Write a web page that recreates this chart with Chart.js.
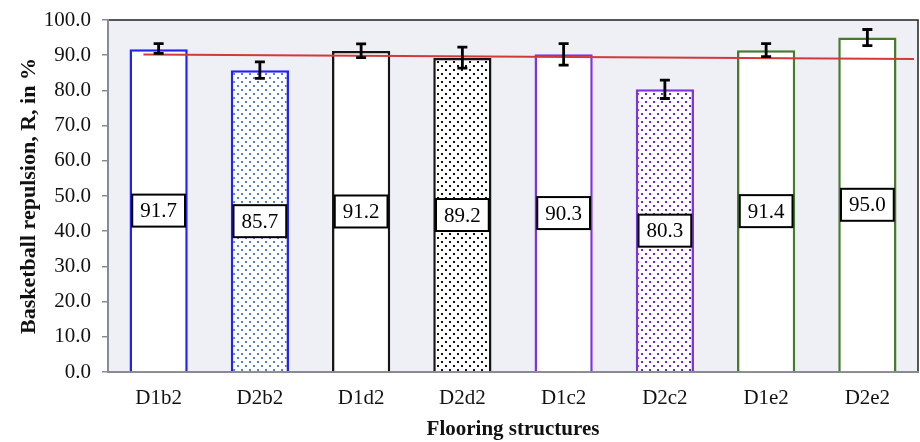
<!DOCTYPE html>
<html><head><meta charset="utf-8">
<script src="https://cdn.jsdelivr.net/npm/chart.js@4.4.1/dist/chart.umd.min.js"></script>
<style>html,body{margin:0;padding:0;background:#fff;}#wrap{width:920px;height:442px;}</style>
</head><body><div id="wrap"><canvas id="c" width="920" height="442"></canvas></div>
<script>
const categories = ['D1b2','D2b2','D1d2','D2d2','D1c2','D2c2','D1e2','D2e2'];
const values = [91.7, 85.7, 91.2, 89.2, 90.3, 80.3, 91.4, 95.0];
const errLow = [90.5, 83.4, 89.3, 86.3, 87.2, 77.7, 89.6, 92.7];
const errHigh = [93.3, 88.1, 93.2, 92.3, 93.3, 82.9, 93.3, 97.3];
const trendX = [-0.15, 7.46];
const trendY = [90.2, 88.9];
const yTicks = [0,10,20,30,40,50,60,70,80,90,100];

const borderColors = ['#2222f2','#2222f2','#151515','#151515','#8033e3','#8033e3','#467a2c','#467a2c'];
const dotColors = [null,'#5a7ed0',null,'#111111',null,'#6a2ac6',null,null];

function makePattern(color){
  const c = document.createElement('canvas'); c.width = 8; c.height = 8;
  const g = c.getContext('2d');
  g.fillStyle = '#ffffff'; g.fillRect(0,0,8,8);
  g.fillStyle = color;
  g.fillRect(1,1,2,2); g.fillRect(5,5,2,2);
  return g.createPattern(c,'repeat');
}
const fills = dotColors.map(c => c ? makePattern(c) : '#ffffff');

const FONT = "'Liberation Serif','Times New Roman',serif";

const bgPlugin = {
  id:'bg',
  beforeDraw(chart){
    const {ctx, chartArea:a} = chart;
    ctx.save();
    ctx.fillStyle = '#efeff6';
    ctx.fillRect(a.left, a.top, a.right-a.left, a.bottom-a.top);
    ctx.strokeStyle = '#222'; ctx.lineWidth = 1.5;
    ctx.beginPath();
    ctx.moveTo(a.left, a.top); ctx.lineTo(a.right, a.top); ctx.lineTo(a.right, a.bottom);
    ctx.stroke();
    ctx.restore();
  }
};

const overlayPlugin = {
  id:'overlay',
  afterDatasetsDraw(chart){
    const {ctx} = chart;
    const meta = chart.getDatasetMeta(0);
    const ys = chart.scales.y;
    ctx.save();
    ctx.strokeStyle = '#000'; ctx.lineWidth = 2.8;
    meta.data.forEach((bar,i)=>{
      const x = bar.x, y1 = ys.getPixelForValue(errHigh[i]), y2 = ys.getPixelForValue(errLow[i]);
      ctx.beginPath();
      ctx.moveTo(x, y1); ctx.lineTo(x, y2);
      ctx.moveTo(x-5, y1); ctx.lineTo(x+5, y1);
      ctx.moveTo(x-5, y2); ctx.lineTo(x+5, y2);
      ctx.stroke();
    });
    ctx.font = '21px ' + FONT;
    ctx.textAlign = 'center'; ctx.textBaseline = 'middle';
    meta.data.forEach((bar,i)=>{
      const txt = values[i].toFixed(1);
      const x = bar.x, y = ys.getPixelForValue(values[i]/2);
      const w = ctx.measureText(txt).width + 16, h = 32;
      ctx.fillStyle = '#fff';
      ctx.fillRect(x-w/2, y-h/2, w, h);
      ctx.strokeStyle = '#000'; ctx.lineWidth = 2;
      ctx.strokeRect(x-w/2, y-h/2, w, h);
      ctx.fillStyle = '#000';
      ctx.fillText(txt, x, y+1);
    });
    ctx.restore();
  }
};

new Chart(document.getElementById('c'), {
  data:{
    labels: categories,
    datasets:[
      {type:'bar', data: values, backgroundColor: fills, borderColor: borderColors, borderWidth: 2.5,
       barPercentage: 0.575, categoryPercentage: 1.0, grouped:false, order: 2},
      {type:'line', xAxisID:'x2', data: trendX.map((x,i)=>({x:x, y:trendY[i]})),
       borderColor:'#d23a3a', borderWidth:2, pointRadius:0, fill:false, order:1}
    ]
  },
  options:{
    responsive:false, animation:false,
    layout:{padding:{left:0, right:2, top:20, bottom:0}},
    plugins:{legend:{display:false}, tooltip:{enabled:false}},
    scales:{
      x:{
        type:'category', offset:true,
        grid:{display:false},
        border:{display:true, color:'#8a8a96', width:2},
        ticks:{color:'#111', font:{family:FONT, size:21}, padding:6},
        title:{display:true, text:'Flooring structures', color:'#111', font:{family:FONT, size:21, weight:'bold'}, padding:{top:0, bottom:0}},
        afterFit(s){ s.height = 70; s.paddingLeft = 0; s.paddingRight = 0; }
      },
      x2:{type:'linear', display:false, min:-0.5, max:7.5},
      y:{
        min:0, max:100,
        afterBuildTicks(s){ s.ticks = yTicks.map(v=>({value:v})); },
        grid:{drawOnChartArea:false, drawTicks:true, tickLength:6, color:'#8a8a96', lineWidth:1.5},
        border:{display:true, color:'#8a8a96', width:2},
        ticks:{color:'#111', font:{family:FONT, size:21}, padding:11, callback:v=>Number(v).toFixed(1)},
        title:{display:true, text:'Basketball repulsion, R, in %', color:'#111', font:{family:FONT, size:22, weight:'bold'}, padding:{top:16, bottom:0}},
        afterFit(s){ s.width = 108; s.paddingTop = 0; s.paddingBottom = 0; }
      }
    }
  },
  plugins:[bgPlugin, overlayPlugin]
});
</script></body></html>
